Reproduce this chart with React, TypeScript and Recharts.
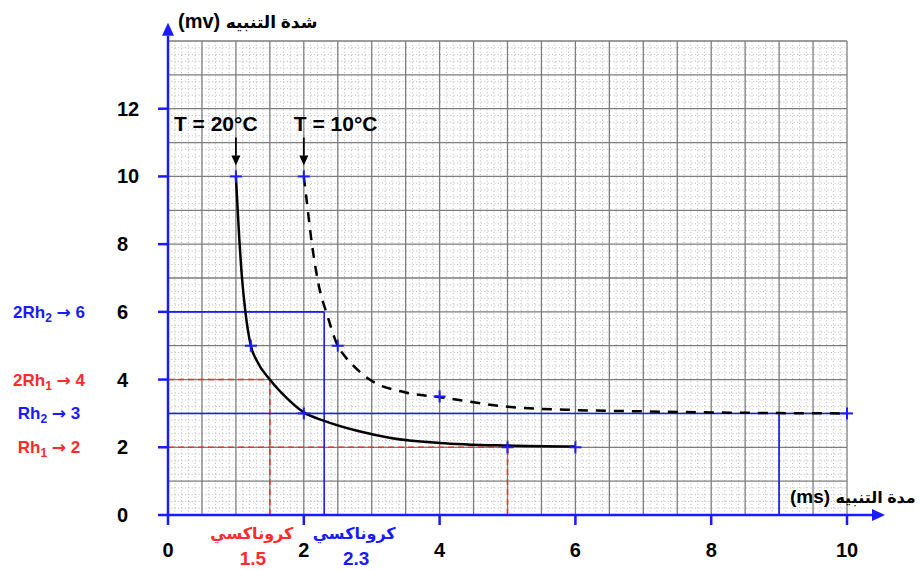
import React from "react";
import {
  ComposedChart,
  Line,
  Scatter,
  XAxis,
  YAxis,
  ReferenceLine,
} from "recharts";

const FONT = "Arial, 'Liberation Sans', 'DejaVu Sans', sans-serif";
const BLUE = "#1a1aff";
const RED = "#ff2a2a";

const xTicks = [0, 2, 4, 6, 8, 10];
const yTicks = [0, 2, 4, 6, 8, 10, 12];

// T = 20°C (solid)
const curve20 = [
  { x: 1, y: 10 },
  { x: 1.04, y: 8.5 },
  { x: 1.09, y: 7 },
  { x: 1.14, y: 6 },
  { x: 1.22, y: 5 },
  { x: 1.31, y: 4.55 },
  { x: 1.5, y: 4 },
  { x: 1.75, y: 3.45 },
  { x: 2, y: 3.03 },
  { x: 2.3, y: 2.78 },
  { x: 2.8, y: 2.48 },
  { x: 3.3, y: 2.27 },
  { x: 4, y: 2.13 },
  { x: 5, y: 2.05 },
  { x: 6, y: 2.02 },
];

// T = 10°C (dashed)
const curve10 = [
  { x: 2, y: 10 },
  { x: 2.03, y: 9.5 },
  { x: 2.12, y: 8 },
  { x: 2.24, y: 6.6 },
  { x: 2.33, y: 6 },
  { x: 2.5, y: 5 },
  { x: 2.6, y: 4.7 },
  { x: 2.72, y: 4.43 },
  { x: 2.97, y: 4 },
  { x: 3.5, y: 3.62 },
  { x: 4, y: 3.48 },
  { x: 5, y: 3.2 },
  { x: 6, y: 3.1 },
  { x: 7, y: 3.06 },
  { x: 8, y: 3.03 },
  { x: 9, y: 3.01 },
  { x: 10, y: 3 },
];

const marks20 = [
  { x: 1, y: 10 },
  { x: 1.22, y: 5 },
  { x: 2, y: 3 },
  { x: 5, y: 2 },
  { x: 6, y: 2 },
];
const marks10 = [
  { x: 2, y: 10 },
  { x: 2.5, y: 5 },
  { x: 4, y: 3.5 },
  { x: 10, y: 3 },
];

// grid positions
const minorX: number[] = [];
for (let i = 1; i < 100; i++) if (i % 5 !== 0) minorX.push(i / 10);
const majorX: number[] = [];
for (let i = 1; i <= 20; i++) majorX.push(i / 2);
const minorY: number[] = [];
for (let i = 1; i < 70; i++) if (i % 5 !== 0) minorY.push(i / 5);
const majorY: number[] = [];
for (let i = 1; i <= 14; i++) majorY.push(i);

const arrowShape = (width: number, head: number, half: number) => (p: any) => {
  const { x1, y1, x2, y2, stroke } = p;
  const a = Math.atan2(y2 - y1, x2 - x1);
  const bx = x2 - head * Math.cos(a);
  const by = y2 - head * Math.sin(a);
  const px = -Math.sin(a) * half;
  const py = Math.cos(a) * half;
  return (
    <g>
      <line x1={x1} y1={y1} x2={bx} y2={by} stroke={stroke} strokeWidth={width} />
      <polygon
        points={`${x2},${y2} ${bx + px},${by + py} ${bx - px},${by - py}`}
        fill={stroke}
      />
    </g>
  );
};

const plus = (p: any) => {
  const { cx, cy } = p;
  return (
    <g stroke={BLUE} strokeWidth={2}>
      <line x1={cx - 6} y1={cy} x2={cx + 6} y2={cy} />
      <line x1={cx} y1={cy - 6} x2={cx} y2={cy + 6} />
    </g>
  );
};

const sideLabel = (main: string, sub: string, tail: string, color: string) => (p: any) => {
  const vb = p.viewBox;
  return (
    <text
      x={vb.x - 119}
      y={vb.y + 6}
      textAnchor="middle"
      fill={color}
      fontFamily={FONT}
      fontWeight="bold"
      fontSize={17}
    >
      {main}
      <tspan dy={4} fontSize={12}>{sub}</tspan>
      <tspan dy={-4}> </tspan>
      <tspan fontFamily="'DejaVu Sans', sans-serif">→</tspan>
      <tspan>{" " + tail}</tspan>
    </text>
  );
};

const bottomLabel = (value: string, color: string, dx1: number, dx2: number) => (p: any) => {
  const vb = p.viewBox;
  const bottom = vb.y + vb.height;
  return (
    <g fill={color} fontFamily={FONT} fontWeight="bold" textAnchor="middle">
      <text x={vb.x + dx1} y={bottom + 24} fontSize={16}>كروناكسي</text>
      <text x={vb.x + dx2} y={bottom + 50} fontSize={19}>{value}</text>
    </g>
  );
};

const tempLabel = (text: string, dx: number) => (p: any) => {
  const vb = p.viewBox;
  return (
    <text
      x={vb.x + dx}
      y={vb.y - 6}
      fill="#000"
      fontFamily={FONT}
      fontWeight="bold"
      fontSize={21}
    >
      {text}
    </text>
  );
};

const YTick = (p: any) => (
  <text
    x={p.x - 39}
    y={p.y + 7}
    textAnchor="start"
    fill="#000"
    fontFamily={FONT}
    fontWeight="bold"
    fontSize={20}
  >
    {p.payload.value}
  </text>
);

const XTick = (p: any) => (
  <text
    x={p.x}
    y={p.y + 30}
    textAnchor="middle"
    fill="#000"
    fontFamily={FONT}
    fontWeight="bold"
    fontSize={20}
  >
    {p.payload.value}
  </text>
);

export default function App() {
  return (
    <div style={{ position: "absolute", left: 0, top: 0, background: "#fff" }}>
      <ComposedChart
        width={923}
        height={570}
        margin={{ top: 41, right: 76, bottom: 15, left: 108 }}
      >
        <XAxis
          type="number"
          dataKey="x"
          domain={[0, 10]}
          ticks={xTicks}
          interval={0}
          axisLine={{ stroke: BLUE, strokeWidth: 2.5 }}
          tickLine={{ stroke: BLUE, strokeWidth: 2.5 }}
          tickSize={10}
          tickMargin={2}
          height={40}
          tick={<XTick />}
        />
        <YAxis
          type="number"
          dataKey="y"
          domain={[0, 14]}
          ticks={yTicks}
          interval={0}
          axisLine={{ stroke: BLUE, strokeWidth: 2.5 }}
          tickLine={{ stroke: BLUE, strokeWidth: 2.5 }}
          tickSize={10}
          tickMargin={2}
          width={60}
          tick={<YTick />}
        />

        {minorX.map((v) => (
          <ReferenceLine key={"mx" + v} x={v} stroke="#b5b5b5" strokeWidth={1} strokeDasharray="1 2.4" />
        ))}
        {minorY.map((v) => (
          <ReferenceLine key={"my" + v} y={v} stroke="#b5b5b5" strokeWidth={1} strokeDasharray="1 2.4" />
        ))}
        {majorX.map((v) => (
          <ReferenceLine key={"Mx" + v} x={v} stroke="#7d7d7d" strokeWidth={1.3} />
        ))}
        {majorY.map((v) => (
          <ReferenceLine key={"My" + v} y={v} stroke="#7d7d7d" strokeWidth={1.3} />
        ))}

        {/* red construction lines (Rh1, 2Rh1 -> chronaxie 1.5) */}
        <ReferenceLine
          segment={[{ x: 0, y: 4 }, { x: 1.5, y: 4 }]}
          stroke={RED}
          strokeWidth={1.5}
          strokeDasharray="6 4"
          label={sideLabel("2Rh", "1", "4", RED)}
        />
        <ReferenceLine
          segment={[{ x: 1.5, y: 0 }, { x: 1.5, y: 4 }]}
          stroke={RED}
          strokeWidth={1.5}
          strokeDasharray="6 4"
          label={bottomLabel("1.5", RED, -18, -17)}
        />
        <ReferenceLine
          segment={[{ x: 0, y: 2 }, { x: 5, y: 2 }]}
          stroke={RED}
          strokeWidth={1.5}
          strokeDasharray="6 4"
          label={sideLabel("Rh", "1", "2", RED)}
        />
        <ReferenceLine
          segment={[{ x: 5, y: 0 }, { x: 5, y: 2 }]}
          stroke={RED}
          strokeWidth={1.5}
          strokeDasharray="6 4"
        />

        {/* blue construction lines (Rh2, 2Rh2 -> chronaxie 2.3) */}
        <ReferenceLine
          segment={[{ x: 0, y: 6 }, { x: 2.3, y: 6 }]}
          stroke={BLUE}
          strokeWidth={1.6}
          label={sideLabel("2Rh", "2", "6", BLUE)}
        />
        <ReferenceLine
          segment={[{ x: 2.3, y: 0 }, { x: 2.3, y: 6 }]}
          stroke={BLUE}
          strokeWidth={1.6}
          label={bottomLabel("2.3", BLUE, 30, 32)}
        />
        <ReferenceLine
          segment={[{ x: 0, y: 3 }, { x: 10, y: 3 }]}
          stroke={BLUE}
          strokeWidth={1.6}
          label={sideLabel("Rh", "2", "3", BLUE)}
        />
        <ReferenceLine
          segment={[{ x: 9, y: 0 }, { x: 9, y: 3 }]}
          stroke={BLUE}
          strokeWidth={1.6}
        />

        <Line
          data={curve20}
          dataKey="y"
          type="monotone"
          stroke="#000"
          strokeWidth={2.5}
          dot={false}
          isAnimationActive={false}
        />
        <Line
          data={curve10}
          dataKey="y"
          type="monotone"
          stroke="#000"
          strokeWidth={2.5}
          strokeDasharray="10 8"
          dot={false}
          isAnimationActive={false}
        />
        <Scatter data={marks20} dataKey="y" shape={plus} isAnimationActive={false} />
        <Scatter data={marks10} dataKey="y" shape={plus} isAnimationActive={false} />

        {/* temperature annotations */}
        <ReferenceLine
          segment={[{ x: 1, y: 11.15 }, { x: 1, y: 10.32 }]}
          stroke="#000"
          ifOverflow="visible"
          shape={arrowShape(1.8, 10, 4.5)}
          label={tempLabel("T = 20°C", -62)}
        />
        <ReferenceLine
          segment={[{ x: 2, y: 11.15 }, { x: 2, y: 10.32 }]}
          stroke="#000"
          ifOverflow="visible"
          shape={arrowShape(1.8, 10, 4.5)}
          label={tempLabel("T = 10°C", -10)}
        />

        {/* axis arrows and titles */}
        <ReferenceLine
          segment={[{ x: 0, y: 14 }, { x: 0, y: 14.54 }]}
          stroke={BLUE}
          ifOverflow="visible"
          shape={arrowShape(2.5, 13, 6)}
          label={(p: any) => (
            <text
              x={p.viewBox.x + 10}
              y={p.viewBox.y + 5}
              fill="#000"
              fontFamily={FONT}
              fontWeight="bold"
              fontSize={20}
            >
              (mv) <tspan fontSize={17}>شدة التنبيه</tspan>
            </text>
          )}
        />
        <ReferenceLine
          segment={[{ x: 10, y: 0 }, { x: 10.56, y: 0 }]}
          stroke={BLUE}
          ifOverflow="visible"
          shape={arrowShape(2.5, 13, 6)}
          label={(p: any) => (
            <text
              x={p.viewBox.x - 57}
              y={p.viewBox.y - 12}
              fill="#000"
              fontFamily={FONT}
              fontWeight="bold"
              fontSize={19}
            >
              (ms) <tspan fontSize={16}>مدة التنبيه</tspan>
            </text>
          )}
        />
      </ComposedChart>
    </div>
  );
}
